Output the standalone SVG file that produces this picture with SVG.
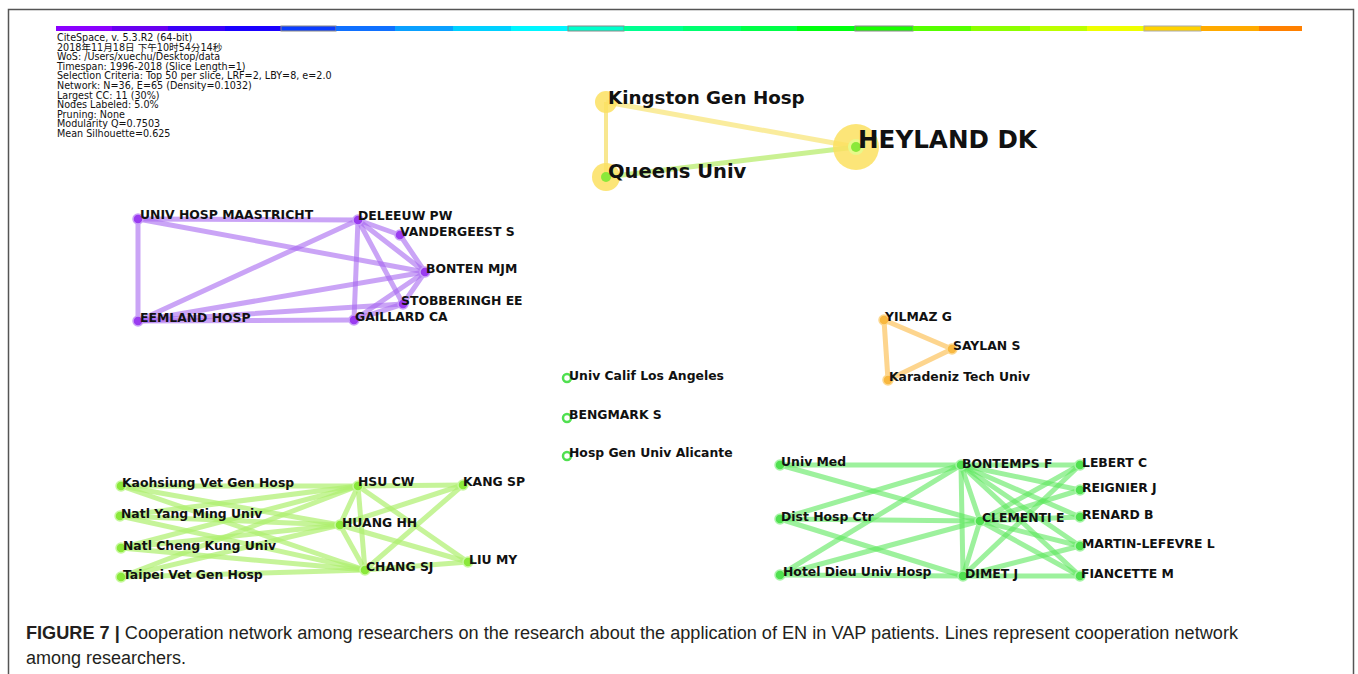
<svg xmlns="http://www.w3.org/2000/svg" width="1358" height="674" viewBox="0 0 1358 674">
<style>
.info{font-family:"DejaVu Sans","Noto Sans CJK SC",sans-serif;font-size:9.6px;fill:#111}
.lbl{font-family:"DejaVu Sans",sans-serif;font-weight:bold;font-size:12.4px;fill:#111}
.big{font-family:"DejaVu Sans",sans-serif;font-weight:bold;fill:#111}
.ep{stroke:#a768f0;stroke-opacity:.6;stroke-width:5;stroke-linecap:round;fill:none}
.eg{stroke:#aef06e;stroke-opacity:.7;stroke-width:5;stroke-linecap:round;fill:none}
.er{stroke:#5ce85c;stroke-opacity:.6;stroke-width:5;stroke-linecap:round;fill:none}
.eo{stroke:#fccb72;stroke-opacity:.8;stroke-width:5;stroke-linecap:round;fill:none}
.np{fill:#9a3cf0;stroke:#c9a0f8;stroke-width:1.5}
.ng{fill:#8ae83a;stroke:#c8f8a0;stroke-width:1.5}
.nr{fill:#50e050;stroke:#a8f4a8;stroke-width:1.5}
.no{fill:#f8b840;stroke:#fcd890;stroke-width:1.5}
.cap{font-family:"Liberation Sans",Arial,sans-serif;font-size:18px;fill:#231f20}
.seg{stroke:none}
</style>
<rect x="8.5" y="9.5" width="1345" height="700" fill="#fff" stroke="#555" stroke-width="1.5"/>
<g id="colorbar">
<rect class="seg" x="56" y="26" width="56" height="5" fill="#8a00ff"/>
<rect class="seg" x="112" y="26" width="56" height="5" fill="#6800f0"/>
<rect class="seg" x="168" y="26" width="57" height="5" fill="#3a00f8"/>
<rect class="seg" x="225" y="26" width="56" height="5" fill="#1a00ff"/>
<rect x="281" y="26" width="55" height="5" fill="#0a3cff" stroke="#888" stroke-width="1"/>
<rect class="seg" x="336" y="26" width="59" height="5" fill="#1070ff"/>
<rect class="seg" x="395" y="26" width="58" height="5" fill="#0aa0ff"/>
<rect class="seg" x="453" y="26" width="58" height="5" fill="#00d0ff"/>
<rect class="seg" x="511" y="26" width="57" height="5" fill="#00f6ff"/>
<rect x="568" y="26" width="56" height="5" fill="#00ffcc" stroke="#888" stroke-width="1"/>
<rect class="seg" x="624" y="26" width="59" height="5" fill="#00ff90"/>
<rect class="seg" x="683" y="26" width="58" height="5" fill="#00ff70"/>
<rect class="seg" x="741" y="26" width="56" height="5" fill="#00ff48"/>
<rect class="seg" x="797" y="26" width="58" height="5" fill="#00ff10"/>
<rect x="855" y="26" width="58" height="5" fill="#18ff00" stroke="#888" stroke-width="1"/>
<rect class="seg" x="913" y="26" width="58" height="5" fill="#55ff00"/>
<rect class="seg" x="971" y="26" width="59" height="5" fill="#8cff00"/>
<rect class="seg" x="1030" y="26" width="57" height="5" fill="#bcff00"/>
<rect class="seg" x="1087" y="26" width="57" height="5" fill="#eeff00"/>
<rect x="1144" y="26" width="57" height="5" fill="#ffd200" stroke="#aaa" stroke-width="1"/>
<rect class="seg" x="1201" y="26" width="58" height="5" fill="#ffaa00"/>
<rect class="seg" x="1259" y="26" width="43" height="5" fill="#ff8000"/>
</g>
<g id="info">
<text class="info" x="57" y="41">CiteSpace, v. 5.3.R2 (64-bit)</text>
<text class="info" x="57" y="50.6">2018年11月18日 下午10时54分14秒</text>
<text class="info" x="57" y="60.2">WoS: /Users/xuechu/Desktop/data</text>
<text class="info" x="57" y="69.8">Timespan: 1996-2018 (Slice Length=1)</text>
<text class="info" x="57" y="79.4">Selection Criteria: Top 50 per slice, LRF=2, LBY=8, e=2.0</text>
<text class="info" x="57" y="89">Network: N=36, E=65 (Density=0.1032)</text>
<text class="info" x="57" y="98.6">Largest CC: 11 (30%)</text>
<text class="info" x="57" y="108.2">Nodes Labeled: 5.0%</text>
<text class="info" x="57" y="117.8">Pruning: None</text>
<text class="info" x="57" y="127.4">Modularity Q=0.7503</text>
<text class="info" x="57" y="137">Mean Silhouette=0.625</text>
</g>
<g id="connectors">
<line x1="606" y1="102" x2="856" y2="147" stroke="#f9e98c" stroke-opacity=".85" stroke-width="5"/>
<line x1="606" y1="102" x2="606" y2="177" stroke="#f7e37c" stroke-opacity=".85" stroke-width="4"/>
<line x1="606" y1="177" x2="856" y2="147" stroke="#c4f086" stroke-opacity=".9" stroke-width="5"/>
<line class="ep" x1="138" y1="219" x2="358" y2="220"/>
<line class="ep" x1="138" y1="219" x2="138" y2="321"/>
<line class="ep" x1="138" y1="219" x2="425" y2="272"/>
<line class="ep" x1="138" y1="321" x2="358" y2="220"/>
<line class="ep" x1="138" y1="321" x2="425" y2="272"/>
<line class="ep" x1="138" y1="321" x2="354" y2="320"/>
<line class="ep" x1="138" y1="321" x2="403" y2="304"/>
<line class="ep" x1="358" y1="220" x2="400" y2="235"/>
<line class="ep" x1="358" y1="220" x2="425" y2="272"/>
<line class="ep" x1="358" y1="220" x2="403" y2="304"/>
<line class="ep" x1="358" y1="220" x2="354" y2="320"/>
<line class="ep" x1="400" y1="235" x2="425" y2="272"/>
<line class="ep" x1="425" y1="272" x2="403" y2="304"/>
<line class="ep" x1="425" y1="272" x2="354" y2="320"/>
<line class="ep" x1="354" y1="320" x2="403" y2="304"/>
<line class="eo" x1="884" y1="320" x2="952" y2="349"/>
<line class="eo" x1="884" y1="320" x2="888" y2="380"/>
<line class="eo" x1="952" y1="349" x2="888" y2="380"/>
<line class="eg" x1="121" y1="486" x2="358" y2="486"/>
<line class="eg" x1="121" y1="486" x2="340" y2="525"/>
<line class="eg" x1="121" y1="486" x2="365" y2="570"/>
<line class="eg" x1="120" y1="516" x2="358" y2="486"/>
<line class="eg" x1="120" y1="516" x2="340" y2="525"/>
<line class="eg" x1="120" y1="516" x2="365" y2="570"/>
<line class="eg" x1="121" y1="548" x2="358" y2="486"/>
<line class="eg" x1="121" y1="548" x2="340" y2="525"/>
<line class="eg" x1="121" y1="548" x2="365" y2="570"/>
<line class="eg" x1="121" y1="577" x2="358" y2="486"/>
<line class="eg" x1="121" y1="577" x2="340" y2="525"/>
<line class="eg" x1="121" y1="577" x2="365" y2="570"/>
<line class="eg" x1="358" y1="486" x2="463" y2="485"/>
<line class="eg" x1="358" y1="486" x2="340" y2="525"/>
<line class="eg" x1="358" y1="486" x2="365" y2="570"/>
<line class="eg" x1="358" y1="486" x2="468" y2="562"/>
<line class="eg" x1="340" y1="525" x2="463" y2="485"/>
<line class="eg" x1="340" y1="525" x2="365" y2="570"/>
<line class="eg" x1="340" y1="525" x2="468" y2="562"/>
<line class="eg" x1="365" y1="570" x2="463" y2="485"/>
<line class="eg" x1="365" y1="570" x2="468" y2="562"/>
<line class="er" x1="780" y1="465" x2="961" y2="465"/>
<line class="er" x1="780" y1="465" x2="980" y2="521"/>
<line class="er" x1="780" y1="519" x2="961" y2="465"/>
<line class="er" x1="780" y1="519" x2="980" y2="521"/>
<line class="er" x1="780" y1="519" x2="963" y2="576"/>
<line class="er" x1="780" y1="575" x2="961" y2="465"/>
<line class="er" x1="780" y1="575" x2="980" y2="521"/>
<line class="er" x1="780" y1="575" x2="963" y2="576"/>
<line class="er" x1="961" y1="465" x2="1080" y2="465"/>
<line class="er" x1="961" y1="465" x2="1080" y2="490"/>
<line class="er" x1="961" y1="465" x2="1080" y2="517"/>
<line class="er" x1="961" y1="465" x2="1080" y2="546"/>
<line class="er" x1="961" y1="465" x2="1080" y2="576"/>
<line class="er" x1="961" y1="465" x2="980" y2="521"/>
<line class="er" x1="961" y1="465" x2="963" y2="576"/>
<line class="er" x1="980" y1="521" x2="1080" y2="465"/>
<line class="er" x1="980" y1="521" x2="1080" y2="490"/>
<line class="er" x1="980" y1="521" x2="1080" y2="517"/>
<line class="er" x1="980" y1="521" x2="1080" y2="546"/>
<line class="er" x1="980" y1="521" x2="1080" y2="576"/>
<line class="er" x1="980" y1="521" x2="963" y2="576"/>
<line class="er" x1="963" y1="576" x2="1080" y2="465"/>
<line class="er" x1="963" y1="576" x2="1080" y2="546"/>
<line class="er" x1="963" y1="576" x2="1080" y2="576"/>
</g>
<g id="n-kingston"><circle cx="606" cy="102" r="11" fill="#fbe060" fill-opacity=".85"/><text class="big" x="608" y="104" font-size="18.3">Kingston Gen Hosp</text></g>
<g id="n-queens"><circle cx="606" cy="177" r="14" fill="#fbe060" fill-opacity=".85"/><circle cx="606" cy="177" r="5" fill="#8ae83a"/><text class="big" x="608" y="178" font-size="19.5">Queens Univ</text></g>
<g id="n-heyland"><circle cx="856" cy="147" r="23" fill="#fbe060" fill-opacity=".85"/><circle cx="856" cy="147" r="8" fill="#e8f88a"/><circle cx="856" cy="147" r="5" fill="#8ae83a"/><text class="big" x="858" y="148" font-size="24.6">HEYLAND DK</text></g>
<g id="n-univhosp"><circle class="np" cx="138" cy="219" r="5"/><text class="lbl" x="140" y="219">UNIV HOSP MAASTRICHT</text></g>
<g id="n-deleeuw"><circle class="np" cx="358" cy="220" r="5"/><text class="lbl" x="358" y="220">DELEEUW PW</text></g>
<g id="n-vandergeest"><circle class="np" cx="400" cy="235" r="5"/><text class="lbl" x="400" y="236">VANDERGEEST S</text></g>
<g id="n-bonten"><circle class="np" cx="425" cy="272" r="5"/><text class="lbl" x="426" y="273">BONTEN MJM</text></g>
<g id="n-stobberingh"><circle class="np" cx="403" cy="304" r="5"/><text class="lbl" x="401" y="305">STOBBERINGH EE</text></g>
<g id="n-gaillard"><circle class="np" cx="354" cy="320" r="5"/><text class="lbl" x="355" y="321">GAILLARD CA</text></g>
<g id="n-eemland"><circle class="np" cx="138" cy="321" r="5"/><text class="lbl" x="140" y="322">EEMLAND HOSP</text></g>
<g id="n-yilmaz"><circle class="no" cx="884" cy="320" r="5"/><text class="lbl" x="885" y="321">YILMAZ G</text></g>
<g id="n-saylan"><circle class="no" cx="952" cy="349" r="5"/><text class="lbl" x="953" y="350">SAYLAN S</text></g>
<g id="n-karadeniz"><circle class="no" cx="888" cy="380" r="5"/><text class="lbl" x="889" y="381">Karadeniz Tech Univ</text></g>
<g id="n-ucla"><circle cx="567" cy="378" r="4" fill="#fff" stroke="#50e050" stroke-width="2.5"/><text class="lbl" x="569" y="380">Univ Calif Los Angeles</text></g>
<g id="n-bengmark"><circle cx="567" cy="418" r="4" fill="#fff" stroke="#50e050" stroke-width="2.5"/><text class="lbl" x="569" y="419">BENGMARK S</text></g>
<g id="n-alicante"><circle cx="567" cy="456" r="4" fill="#fff" stroke="#50e050" stroke-width="2.5"/><text class="lbl" x="569" y="457">Hosp Gen Univ Alicante</text></g>
<g id="n-kaohsiung"><circle class="ng" cx="121" cy="486" r="5"/><text class="lbl" x="122" y="487">Kaohsiung Vet Gen Hosp</text></g>
<g id="n-yangming"><circle class="ng" cx="120" cy="516" r="5"/><text class="lbl" x="121" y="518">Natl Yang Ming Univ</text></g>
<g id="n-chengkung"><circle class="ng" cx="121" cy="548" r="5"/><text class="lbl" x="123" y="550">Natl Cheng Kung Univ</text></g>
<g id="n-taipei"><circle class="ng" cx="121" cy="577" r="5"/><text class="lbl" x="123" y="579">Taipei Vet Gen Hosp</text></g>
<g id="n-hsu"><circle class="ng" cx="358" cy="486" r="5"/><text class="lbl" x="358" y="486">HSU CW</text></g>
<g id="n-huang"><circle class="ng" cx="340" cy="525" r="5"/><text class="lbl" x="342" y="527">HUANG HH</text></g>
<g id="n-chang"><circle class="ng" cx="365" cy="570" r="5"/><text class="lbl" x="366" y="571">CHANG SJ</text></g>
<g id="n-kang"><circle class="ng" cx="463" cy="485" r="5"/><text class="lbl" x="463" y="486">KANG SP</text></g>
<g id="n-liu"><circle class="ng" cx="468" cy="562" r="5"/><text class="lbl" x="469" y="564">LIU MY</text></g>
<g id="n-univmed"><circle class="nr" cx="780" cy="465" r="5"/><text class="lbl" x="781" y="466">Univ Med</text></g>
<g id="n-disthosp"><circle class="nr" cx="780" cy="519" r="5"/><text class="lbl" x="781" y="521">Dist Hosp Ctr</text></g>
<g id="n-hoteldieu"><circle class="nr" cx="780" cy="575" r="5"/><text class="lbl" x="783" y="576">Hotel Dieu Univ Hosp</text></g>
<g id="n-bontemps"><circle class="nr" cx="961" cy="465" r="5"/><text class="lbl" x="962" y="468">BONTEMPS F</text></g>
<g id="n-clementi"><circle class="nr" cx="980" cy="521" r="5"/><text class="lbl" x="982" y="522">CLEMENTI E</text></g>
<g id="n-dimet"><circle class="nr" cx="963" cy="576" r="5"/><text class="lbl" x="965" y="578">DIMET J</text></g>
<g id="n-lebert"><circle class="nr" cx="1080" cy="465" r="5"/><text class="lbl" x="1082" y="467">LEBERT C</text></g>
<g id="n-reignier"><circle class="nr" cx="1080" cy="490" r="5"/><text class="lbl" x="1082" y="492">REIGNIER J</text></g>
<g id="n-renard"><circle class="nr" cx="1080" cy="517" r="5"/><text class="lbl" x="1082" y="519">RENARD B</text></g>
<g id="n-martin"><circle class="nr" cx="1080" cy="546" r="5"/><text class="lbl" x="1082" y="548">MARTIN-LEFEVRE L</text></g>
<g id="n-fiancette"><circle class="nr" cx="1080" cy="576" r="5"/><text class="lbl" x="1081" y="578">FIANCETTE M</text></g>
<g id="caption">
<text class="cap" x="26" y="639" textLength="1212" lengthAdjust="spacingAndGlyphs"><tspan font-weight="bold">FIGURE 7 |</tspan> Cooperation network among researchers on the research about the application of EN in VAP patients. Lines represent cooperation network</text>
<text class="cap" x="26" y="664">among researchers.</text>
</g>
</svg>
